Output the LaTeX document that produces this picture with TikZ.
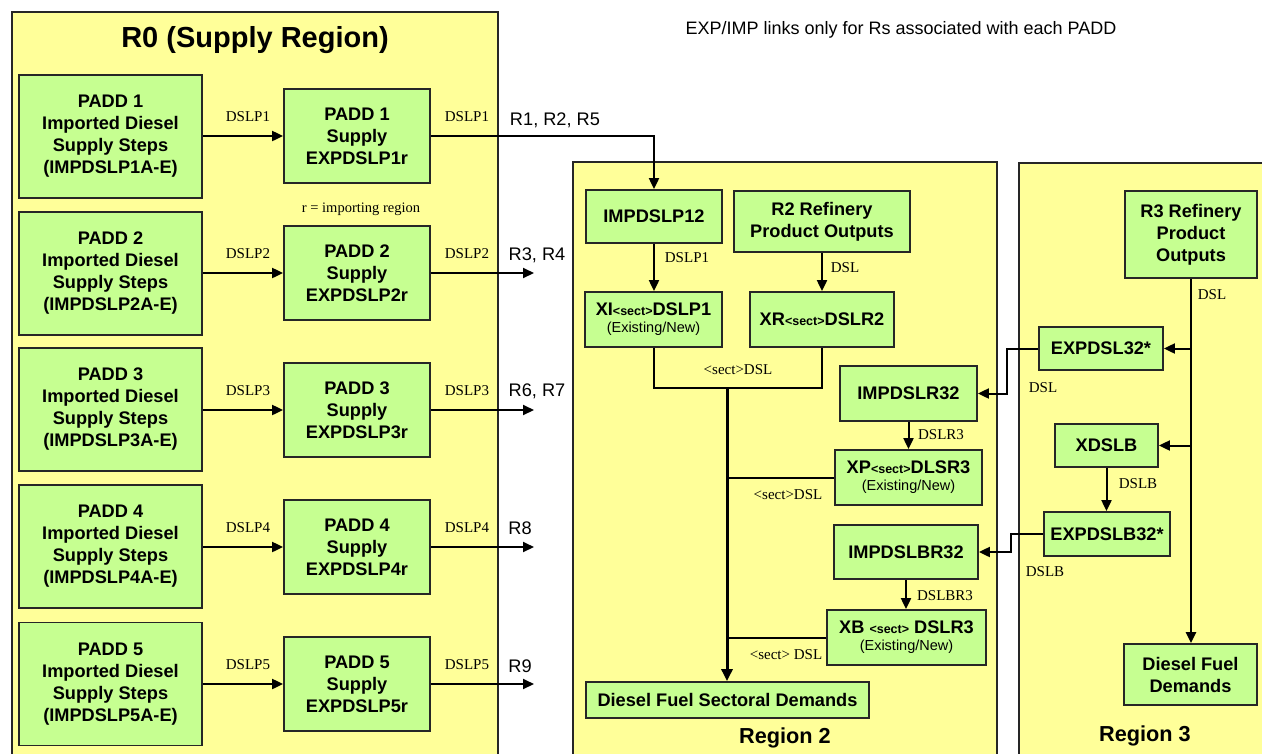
\documentclass[tikz,border=0pt]{standalone}
\usepackage{fontspec}
\setmainfont{Liberation Serif}
\setsansfont{Liberation Sans}
\usetikzlibrary{arrows.meta,calc}

\definecolor{regfill}{RGB}{255,255,153}
\definecolor{boxfill}{RGB}{198,255,145}

\newcommand\bxf{\sffamily\bfseries\fontsize{18.2}{22}\selectfont}
\newcommand\sectf{\sffamily\bfseries\fontsize{12.5}{13}\selectfont}
\newcommand\subf{\sffamily\mdseries\fontsize{14.5}{16}\selectfont}

\tikzset{
  region/.style={draw=black!85, line width=1.5pt, fill=regfill},
  box/.style={draw=black!85, line width=1.8pt, fill=boxfill, align=center,
    font=\bxf, inner sep=0pt},
  flow/.style={line width=2pt, -{Triangle[length=11pt,width=10pt]}},
  plain/.style={line width=2pt},
  trunk/.style={line width=3pt, -{Triangle[length=12pt,width=11pt]}},
  lab/.style={font=\rmfamily\fontsize{15}{16}\selectfont, inner sep=0pt},
  dest/.style={font=\sffamily\fontsize{18.2}{20}\selectfont, inner sep=0pt},
  title/.style={font=\sffamily\bfseries\fontsize{21.7}{24}\selectfont, inner sep=0pt}
}

\begin{document}
\begin{tikzpicture}[x=1pt,y=-1pt]
\useasboundingbox (0,0) rectangle (1262,753);
\clip (0,0) rectangle (1262,753);

% region backgrounds
\draw[region] (12,12) rectangle (498,770);
\draw[region] (573,162) rectangle (997,770);
\draw[region] (1019,163) rectangle (1280,770);

% titles and notes
\node[font=\sffamily\bfseries\fontsize{29}{31}\selectfont, inner sep=0pt] (r0title) at (255,40) {R0 (Supply Region)};
\node[font=\sffamily\fontsize{18}{20}\selectfont, inner sep=0pt] (note) at (901,30) {EXP/IMP links only for Rs associated with each PADD};
\node[font=\rmfamily\fontsize{14.5}{15}\selectfont, inner sep=0pt] (rnote) at (361,209) {r = importing region};
\node[title] (reg2) at (785,738) {Region 2};
\node[title] (reg3) at (1145,736) {Region 3};

% supply region: import steps and PADD supply nodes
\foreach \i/\y in {1/136.5,2/273.5,3/409.5,4/546.5,5/684}{
  \node[box, minimum width=183pt, minimum height=123pt] (p\i) at (110.5,\y)
    {PADD \i\\Imported Diesel\\Supply Steps\\(IMPDSLP\i A-E)};
}
\foreach \i/\y in {1/136,2/273,3/410,4/547,5/684}{
  \node[box, minimum width=146pt, minimum height=94pt] (s\i) at (357,\y)
    {PADD \i\\Supply\\EXPDSLP\i r};
  \draw[flow] (p\i.east |- s\i.west) -- (s\i.west);
  \node[lab] (la\i) at (248,\y-19) {DSLP\i};
  \node[lab] (lb\i) at (467,\y-19) {DSLP\i};
}

% region 2 nodes
\node[box, minimum width=136pt, minimum height=53pt] (imp12) at (654,216.5) {IMPDSLP12};
\node[box, minimum width=176pt, minimum height=61pt] (r2out) at (822,221.5) {R2 Refinery\\Product Outputs};
\node[box, minimum width=137pt, minimum height=55pt] (xi) at (653.5,319.5)
  {XI{\sectf<sect>}DSLP1\\[-5pt]{\subf(Existing/New)}};
\node[box, minimum width=144pt, minimum height=55pt] (xr) at (822,319.5)
  {XR{\sectf<sect>}DSLR2};
\node[box, minimum width=137pt, minimum height=55pt] (imp32) at (908.5,393.5) {IMPDSLR32};
\node[box, minimum width=147pt, minimum height=55pt] (xp) at (908.5,477.5)
  {XP{\sectf<sect>}DLSR3\\[-5pt]{\subf(Existing/New)}};
\node[box, minimum width=144pt, minimum height=54pt] (impb) at (906,552) {IMPDSLBR32};
\node[box, minimum width=159pt, minimum height=55pt] (xb) at (906.5,637.5)
  {XB {\sectf<sect>} DSLR3\\[-5pt]{\subf(Existing/New)}};
\node[box, minimum width=283pt, minimum height=36pt] (dfsd) at (727.5,700) {Diesel Fuel Sectoral Demands};

% region 3 nodes
\node[box, minimum width=132pt, minimum height=87pt] (r3out) at (1191,234.5) {R3 Refinery\\Product\\Outputs};
\node[box, minimum width=124pt, minimum height=43pt] (exp32) at (1101,348.5) {EXPDSL32*};
\node[box, minimum width=103pt, minimum height=43pt] (xdslb) at (1106.5,445.5) {XDSLB};
\node[box, minimum width=126pt, minimum height=44pt] (expb32) at (1107,534) {EXPDSLB32*};
\node[box, minimum width=133pt, minimum height=61pt] (dfd) at (1190.5,674.5) {Diesel Fuel\\Demands};

% exports from the supply region
\draw[flow] (s1.east) -| (imp12.north);
\coordinate (t2) at (534,273);
\coordinate (t3) at (534,410);
\coordinate (t4) at (534,547);
\coordinate (t5) at (534,684);
\foreach \i in {2,3,4,5}{ \draw[flow] (s\i.east) -- (t\i); }
\node[dest] (d1) at (555,120) {R1, R2, R5};
\node[dest] (d2) at (537,255) {R3, R4};
\node[dest] (d3) at (537,391) {R6, R7};
\node[dest] (d4) at (520,528) {R8};
\node[dest] (d5) at (520,666) {R9};

% region 2 flows
\draw[flow] (imp12.south) -- (imp12.south |- xi.north);
\node[lab] (l21) at (687,258) {DSLP1};
\draw[flow] (r2out.south) -- (xr.north);
\node[lab] (l22) at (845,268) {DSL};
\coordinate (j1) at (727,388);
\draw[plain] (xi.south) -- (xi.south |- j1) -- (xr.south |- j1) -- (xr.south);
\node[lab] (l23) at (738,370) {\textless sect\textgreater DSL};
\draw[trunk] (j1) -- (j1 |- dfsd.north);
\draw[flow] (imp32.south) -- (xp.north);
\node[lab] (l24) at (941,435) {DSLR3};
\draw[plain] (xp.west) -- (xp.west -| j1);
\node[lab] (l25) at (788,495) {\textless sect\textgreater DSL};
\draw[flow] (impb.south) -- (impb.south |- xb.north);
\node[lab] (l26) at (945,596) {DSLBR3};
\draw[plain] (xb.west) -- (xb.west -| j1);
\node[lab] (l27) at (786,655) {\textless sect\textgreater{} DSL};

% region 3 flows
\draw[line width=2.4pt, -{Triangle[length=11pt,width=10pt]}] (r3out.south) -- (r3out.south |- dfd.north);
\node[lab] (l31) at (1212,295) {DSL};
\draw[flow] (exp32.east -| r3out.south) -- (exp32.east);
\draw[flow] (xdslb.east -| r3out.south) -- (xdslb.east);
\draw[flow] (xdslb.south) -- (xdslb.south |- expb32.north);
\node[lab] (l32) at (1138,484) {DSLB};

% exports from region 3 into region 2
\draw[flow] (exp32.west) -- ++(-31,0) |- (imp32.east);
\node[lab] (l33) at (1043,388) {DSL};
\draw[flow] (expb32.west) -- ++(-32,0) |- (impb.east);
\node[lab] (l34) at (1045,572) {DSLB};
\end{tikzpicture}
\end{document}
